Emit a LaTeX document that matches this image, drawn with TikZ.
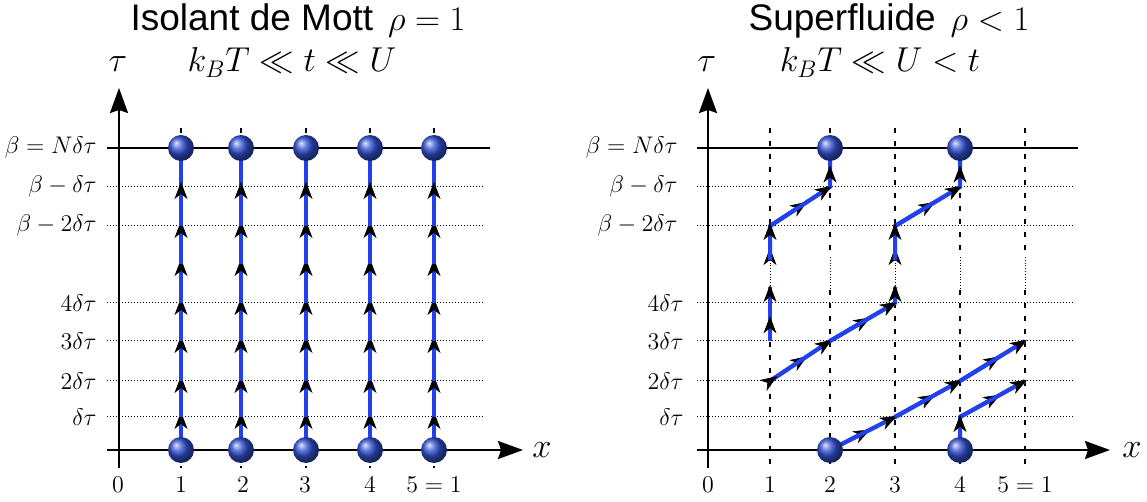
\documentclass[tikz,border=0pt]{standalone}
\usepackage{fontspec}
\setsansfont{Liberation Sans}
\usetikzlibrary{arrows.meta,calc}

\definecolor{wlblue}{RGB}{35,65,235}
\definecolor{ballblue}{RGB}{50,80,210}

\tikzset{
  wtip/.tip={Stealth[length=8.5pt,width=6.5pt,inset=2.6pt,color=black,line width=0.3pt]},
  axis/.style={line width=1pt,-{Stealth[length=12.5pt,width=9pt,inset=1.5pt]}},
  level/.style={line width=0.5pt,densely dotted},
  siteline/.style={line width=1pt,dash pattern=on 2.5pt off 4pt},
  gapline/.style={line width=0.4pt,densely dotted},
  wline/.style={line width=2pt,wlblue},
  hop/.style={wline,-wtip},
  sphere/.style={circle,inner sep=0pt,minimum size=13pt,ball color=ballblue},
  title/.style={font=\sffamily\fontsize{18.5}{22}\selectfont,anchor=base},
  cond/.style={font=\fontsize{18.5}{22}\selectfont,anchor=base},
  lbl/.style={font=\fontsize{12}{14}\selectfont,anchor=east,inner sep=0pt},
  tick/.style={font=\fontsize{12}{14}\selectfont,anchor=base,inner sep=0pt}
}

\begin{document}
\begin{tikzpicture}[x=0.5pt,y=-0.5pt]
  \useasboundingbox (0,0) rectangle (1147,502);
  % Lattice points (site, time slice)
  \foreach \i/\x in {1/181,2/241,3/306,4/370,5/434}
    \foreach \j/\y in {0/450,1/417,2/381,3/341,4/303,5/264,6/226,7/187,8/148}
      \coordinate (L\i-\j) at (\x,\y);
  \foreach \i/\x in {1/770,2/830,3/895,4/960,5/1025}
    \foreach \j/\y in {0/450,1/417,2/381,3/341,4/303,5/264,6/226,7/187,8/148}
      \coordinate (R\i-\j) at (\x,\y);
  \coordinate (R1-gb) at (770,287);
  \coordinate (R1-ga) at (770,260);
  \coordinate (R3-gb) at (895,287);
  \coordinate (R3-ga) at (895,260);

  % Titles
  \node[title] (tleft) at (298,31) {Isolant de Mott\hspace{0.4em}$\rho=1$};
  \node[title] (tright) at (889,31) {Superfluide\hspace{0.4em}$\rho<1$};
  \node[cond] (cleft) at (292,72) {$k_BT \ll t \ll U$};
  \node[cond] (cright) at (880,72) {$k_BT \ll U < t$};
  \node[cond] (tauleft) at (118,72) {$\tau$};
  \node[cond] (tauright) at (707,72) {$\tau$};

  % Time slices
  \foreach \y in {187,226,303,341,381,417} {
    \draw[level] (107,\y) -- (485,\y);
    \draw[level] (697,\y) -- (1075,\y);
  }
  % Sites
  \foreach \x in {181,241,306,370,434}
    \draw[siteline] (\x,128) -- (\x,468);
  \foreach \x in {770,830,895,960,1025} {
    \draw[siteline] (\x,128) -- (\x,257);
    \draw[gapline] (\x,257) -- (\x,290);
    \draw[siteline] (\x,290) -- (\x,468);
  }

  % Axes
  \draw[axis] (119,468) -- (119,88);
  \draw[axis] (107,450) -- (523,450);
  \draw[line width=1pt] (107,148) -- (490,148);
  \draw[axis] (708,468) -- (708,88);
  \draw[axis] (697,450) -- (1110,450);
  \draw[line width=1pt] (697,148) -- (1078,148);
  \node[inner sep=0pt,anchor=west,font=\fontsize{18.5}{22}\selectfont] (xleft) at (532,450) {$x$};
  \node[inner sep=0pt,anchor=west,font=\fontsize{18.5}{22}\selectfont] (xright) at (1122,450) {$x$};

  % Tau labels
  \foreach \y/\t in {148/{\beta=N\delta\tau},187/{\beta-\delta\tau},226/{\beta-2\delta\tau}} {
    \node[lbl] at (97,\y) {$\t$};
    \node[lbl] at (678,\y) {$\t$};
  }
  \foreach \y/\t in {303/4\delta\tau,341/3\delta\tau,381/2\delta\tau,417/\delta\tau} {
    \node[lbl] at (97,\y) {$\t$};
    \node[lbl] at (684,\y) {$\t$};
  }
  % Site labels
  \foreach \x/\t in {118/0,181/1,243/2,305/3,370/4,434/{5=1}}
    \node[tick] at (\x,493) {$\t$};
  \foreach \x/\t in {708/0,770/1,830/2,895/3,960/4,1025/{5=1}}
    \node[tick] at (\x,493) {$\t$};

  % World lines, Mott insulator
  \foreach \i in {1,...,5} {
    \draw[wline] (L\i-0) -- (L\i-8);
    \foreach \j [count=\k] in {0,...,6}
      \draw[hop] (L\i-\j) -- ([yshift=2.5pt]L\i-\k);
  }

  % World lines, superfluid
  \draw[wline] (R2-0) -- (R3-1) -- (R4-2) -- (R5-3);
  \draw[wline] (R4-0) -- (R4-1) -- (R5-2);
  \draw[wline] (R1-2) -- (R2-3) -- (R3-4) -- (R3-gb);
  \draw[wline] (R1-3) -- (R1-gb);
  \draw[wline] (R1-ga) -- (R1-6) -- (R2-7) -- (R2-8);
  \draw[wline] (R3-ga) -- (R3-6) -- (R4-7) -- (R4-8);
  % hops
  \foreach \a/\b in {R2-0/R3-1,R3-1/R4-2,R4-2/R5-3,R4-1/R5-2,R1-2/R2-3,
                     R2-3/R3-4,R1-6/R2-7,R3-6/R4-7} {
    \draw[hop] (\a) -- ($(\a)!0.62!(\b)$);
    \draw[hop] (\a) -- ($(\a)!1.03!(\b)$);
  }
  \draw[hop] (R1-2) -- ($(R1-2)!0.12!(R2-3)$);
  % vertical arrows
  \draw[hop] (R4-0) -- ([yshift=1pt]R4-1);
  \draw[hop] (R3-4) -- ([yshift=1pt]R3-gb);
  \draw[hop] (R1-3) -- ($(R1-3)!0.65!(R1-4)$);
  \draw[hop] (R1-4) -- ([yshift=1pt]R1-gb);
  \foreach \s/\t in {1/2,3/4} {
    \draw[hop] (R\s-ga) -- ($(R\s-ga)!0.35!(R\s-6)$);
    \draw[hop] (R\s-ga) -- ([yshift=1.5pt]R\s-6);
    \draw[hop] (R\t-7) -- ($(R\t-7)!0.55!(R\t-8)$);
  }

  % Particles
  \foreach \i in {1,...,5} {
    \node[sphere] (lb\i) at (L\i-0) {};
    \node[sphere] (lt\i) at (L\i-8) {};
  }
  \foreach \i in {2,4} {
    \node[sphere] (rb\i) at (R\i-0) {};
    \node[sphere] (rt\i) at (R\i-8) {};
  }
\end{tikzpicture}
\end{document}
